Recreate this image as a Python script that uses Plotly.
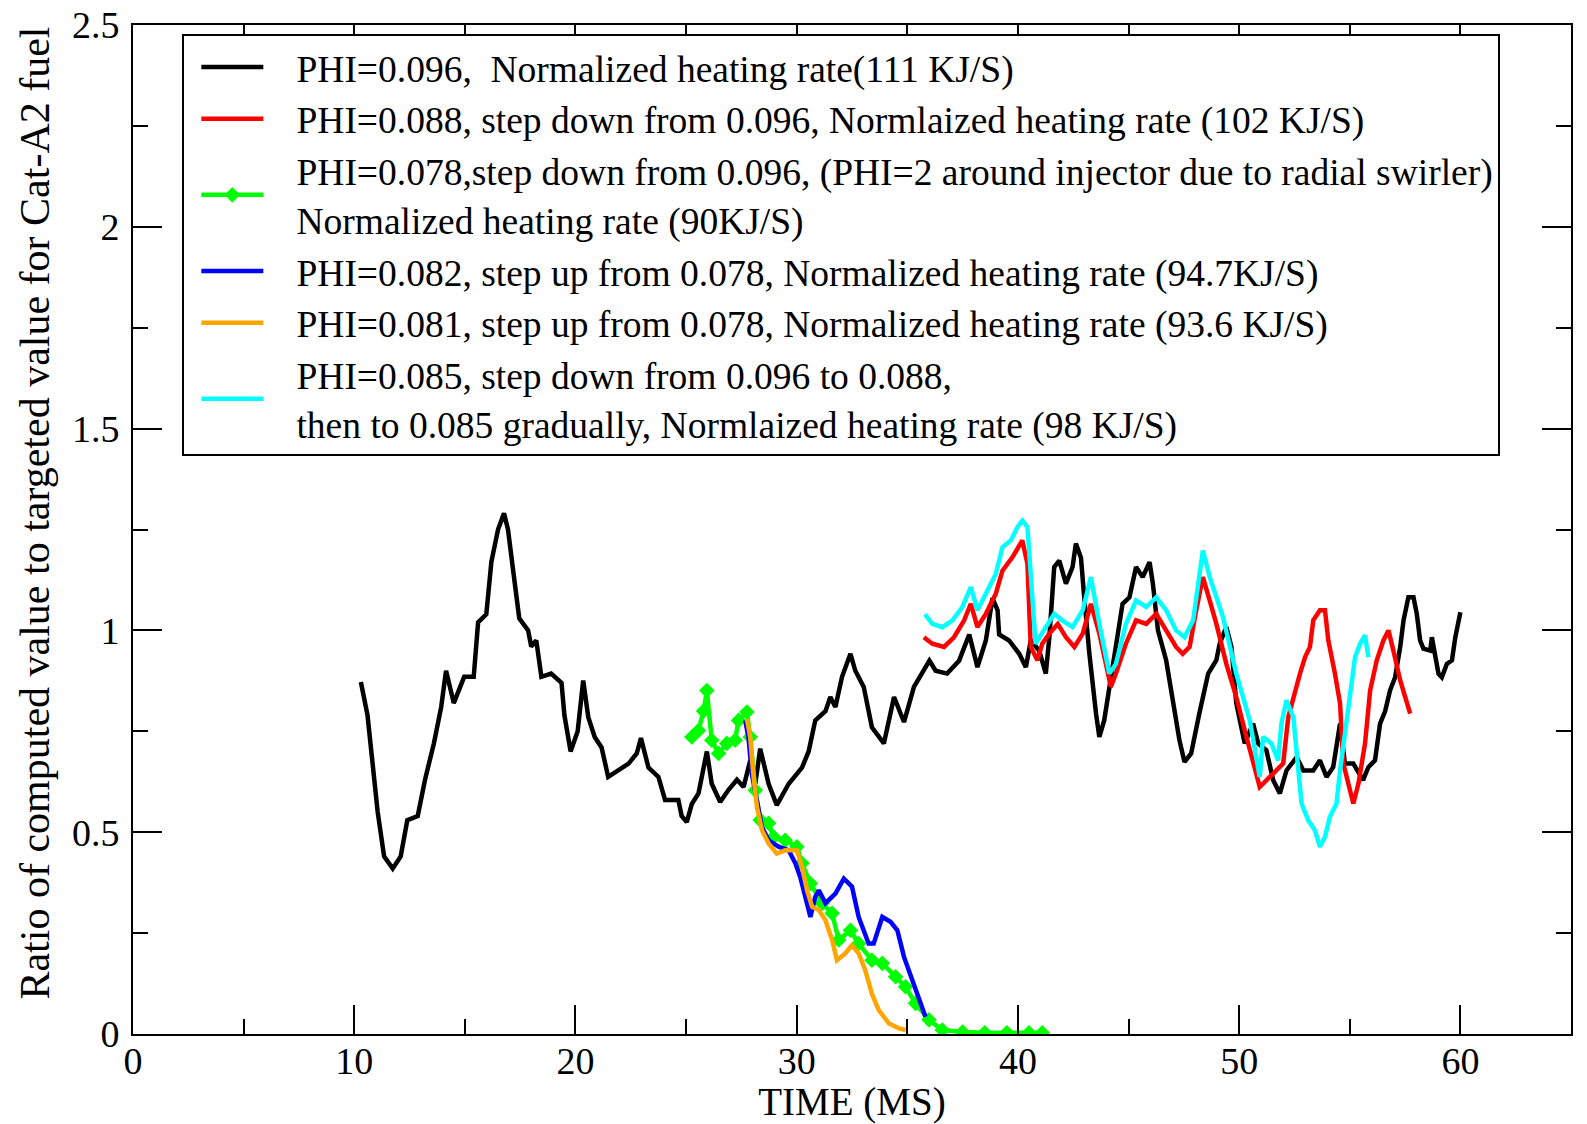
import plotly.graph_objects as go

# ---------------- data ----------------
black_x = [10.3, 10.6, 10.83, 11.06, 11.35, 11.74, 12.1, 12.4, 12.87, 13.2, 13.6, 13.93, 14.15, 14.5, 14.97,
           15.4, 15.6, 15.97, 16.2, 16.5, 16.77, 16.95, 17.18, 17.46, 17.86, 18.0, 18.23, 18.46, 18.9, 19.37,
           19.5, 19.78, 20.1, 20.35, 20.58, 20.87, 21.18, 21.48, 21.93, 22.4, 22.77, 22.96, 23.3, 23.75, 24.05,
           24.65, 24.8, 25.03, 25.26, 25.56, 25.94, 26.16, 26.54, 26.92, 27.3, 27.6, 27.9, 28.13, 28.35, 28.73,
           29.1, 29.64, 30.24, 30.54, 30.84, 31.3, 31.52, 31.75, 32.05, 32.43, 32.65, 33.03, 33.4, 33.94, 34.4,
           34.85, 35.3, 36.0, 36.28, 36.8, 37.34, 37.8, 38.17, 38.55, 38.85, 39.08, 39.15, 39.6, 40.06, 40.36,
           40.58, 40.96, 41.26, 41.42, 41.64, 41.87, 42.17, 42.47, 42.62, 42.85, 43.0, 43.23, 43.53, 43.68, 43.9,
           44.2, 44.73, 45.04, 45.34, 45.64, 45.95, 46.1, 46.33, 46.7, 47.0, 47.3, 47.53, 47.83, 48.2, 48.6,
           48.97, 49.12, 49.42, 49.65, 49.87, 50.1, 50.25, 50.63, 50.86, 51.23, 51.54, 51.84, 52.14, 52.6, 52.9,
           53.35, 53.65, 53.95, 54.25, 54.56, 54.78, 55.16, 55.6, 55.84, 56.14, 56.37, 56.6, 56.82, 57.05, 57.28,
           57.43, 57.65, 57.88, 58.03, 58.18, 58.33, 58.64, 58.71, 58.86, 59.01, 59.16, 59.39, 59.62, 59.77, 60.0]
black_y = [0.872, 0.79, 0.67, 0.55, 0.44, 0.41, 0.44, 0.53, 0.54, 0.63, 0.72, 0.81, 0.90, 0.82, 0.885,
           0.885, 1.02, 1.04, 1.17, 1.25, 1.29, 1.25, 1.15, 1.03, 1.0, 0.96, 0.975, 0.885, 0.893, 0.87,
           0.79, 0.70, 0.75, 0.876, 0.785, 0.736, 0.71, 0.637, 0.653, 0.67, 0.695, 0.733, 0.66, 0.637, 0.58,
           0.58, 0.54, 0.525, 0.57, 0.596, 0.70, 0.62, 0.575, 0.605, 0.63, 0.612, 0.678, 0.62, 0.707, 0.62,
           0.567, 0.62, 0.66, 0.70, 0.777, 0.80, 0.835, 0.81, 0.885, 0.942, 0.90, 0.86, 0.76, 0.72, 0.835,
           0.773, 0.86, 0.925, 0.90, 0.893, 0.925, 0.99, 0.909, 0.975, 1.08, 1.05, 0.99, 0.975, 0.942, 0.909,
           0.975, 0.95, 0.893, 0.983, 1.157, 1.173, 1.116, 1.157, 1.215, 1.18, 1.08, 0.942, 0.794, 0.736, 0.777,
           0.876, 1.066, 1.082, 1.157, 1.132, 1.169, 1.116, 1.0, 0.926, 0.827, 0.728, 0.674, 0.695, 0.794, 0.893,
           0.926, 0.967, 1.008, 0.96, 0.82, 0.752, 0.72, 0.769, 0.72, 0.703, 0.629, 0.596, 0.653, 0.686, 0.653,
           0.653, 0.678, 0.637, 0.661, 0.769, 0.67, 0.67, 0.629, 0.661, 0.678, 0.769, 0.80, 0.851, 0.884, 0.959,
           1.025, 1.082, 1.082, 1.041, 0.975, 0.955, 0.95, 0.983, 0.942, 0.893, 0.884, 0.917, 0.926, 0.983, 1.045]

red_x = [35.75, 36.13, 36.66, 37.11, 37.57, 37.87, 38.17, 38.55, 39.0, 39.3, 39.75, 40.2, 40.43, 40.58, 40.88,
         41.1, 41.42, 41.8, 42.17, 42.55, 42.93, 43.3, 43.68, 44.06, 44.2, 44.43, 44.88, 45.34, 45.8, 46.25,
         46.7, 47.15, 47.45, 47.76, 48.06, 48.36, 48.67, 48.97, 49.42, 49.87, 50.33, 50.7, 50.93, 51.39, 51.99,
         52.22, 52.45, 52.75, 52.98, 53.2, 53.35, 53.65, 53.88, 54.03, 54.33, 54.56, 54.71, 54.93, 55.16, 55.39,
         55.69, 55.92, 56.22, 56.52, 56.75, 56.97, 57.28, 57.73]
red_y = [0.983, 0.967, 0.959, 0.983, 1.025, 1.066, 1.008, 1.041, 1.091, 1.148, 1.181, 1.223, 1.165, 0.959, 0.926,
         0.967, 0.992, 1.016, 0.983, 0.959, 0.992, 1.066, 0.992, 0.893, 0.86, 0.893, 0.967, 1.025, 1.016, 1.041,
         1.0, 0.959, 0.942, 0.959, 1.05, 1.132, 1.074, 1.016, 0.917, 0.835, 0.736, 0.653, 0.612, 0.637, 0.67,
         0.785, 0.835, 0.893, 0.934, 0.959, 1.025, 1.05, 1.05, 0.975, 0.893, 0.819, 0.67, 0.62, 0.571, 0.62,
         0.72, 0.851, 0.926, 0.975, 1.0, 0.95, 0.876, 0.794]

green_x = [25.26, 25.56, 25.79, 25.94, 26.16, 26.47, 26.84, 27.22, 27.37, 27.75, 27.9, 28.13, 28.35, 28.73,
           28.96, 29.48, 30.01, 30.24, 30.62, 31.15, 31.6, 31.9, 32.43, 32.8, 33.4, 33.87, 34.47, 34.92, 35.37,
           35.98, 36.58, 37.5, 38.5, 39.5, 40.5, 41.1]
green_y = [0.736, 0.752, 0.80, 0.851, 0.728, 0.695, 0.72, 0.728, 0.777, 0.798, 0.736, 0.604, 0.53, 0.522,
           0.488, 0.48, 0.464, 0.423, 0.373, 0.324, 0.299, 0.233, 0.257, 0.224, 0.183, 0.175, 0.142, 0.117, 0.076,
           0.035, 0.01, 0.005, 0.003, 0.003, 0.003, 0.003]

blue_x = [27.67, 27.82, 27.97, 28.2, 28.43, 28.73, 29.18, 29.64, 29.94, 30.16, 30.39, 30.62, 30.84, 31.0,
          31.3, 31.75, 32.13, 32.5, 32.8, 33.25, 33.48, 33.87, 34.24, 34.55, 34.85, 35.22, 35.52, 35.82]
blue_y = [0.777, 0.736, 0.645, 0.571, 0.513, 0.48, 0.464, 0.455, 0.423, 0.389, 0.34, 0.29, 0.34, 0.356,
          0.324, 0.348, 0.385, 0.365, 0.29, 0.224, 0.224, 0.29, 0.278, 0.257, 0.191, 0.134, 0.084, 0.043]

orange_x = [27.75, 27.9, 28.05, 28.2, 28.43, 28.73, 29.1, 29.48, 30.01, 30.24, 30.47, 30.7, 31.0, 31.3,
            31.6, 31.82, 32.2, 32.5, 32.8, 33.1, 33.4, 33.7, 34.17, 34.62, 34.92]
orange_y = [0.78, 0.736, 0.637, 0.563, 0.505, 0.472, 0.447, 0.455, 0.455, 0.414, 0.356, 0.315, 0.307, 0.282,
            0.233, 0.183, 0.2, 0.22, 0.2, 0.158, 0.1, 0.06, 0.026, 0.014, 0.01]

cyan_x = [35.8, 36.13, 36.58, 37.04, 37.49, 37.87, 38.17, 38.55, 39.0, 39.3, 39.68, 39.98, 40.2, 40.43, 40.66,
          40.8, 41.26, 41.64, 42.0, 42.47, 42.93, 43.3, 43.68, 44.13, 44.43, 44.88, 45.34, 45.8, 46.25, 46.7,
          47.15, 47.53, 47.92, 48.36, 48.67, 49.27, 49.87, 50.48, 50.93, 51.08, 51.46, 51.76, 51.91, 52.14, 52.45,
          52.67, 52.82, 53.12, 53.42, 53.65, 53.88, 54.1, 54.4, 54.56, 54.78, 55.0, 55.24, 55.47, 55.69, 55.84]
cyan_y = [1.04, 1.016, 1.008, 1.025, 1.058, 1.107, 1.05, 1.091, 1.14, 1.206, 1.223, 1.256, 1.272, 1.256, 1.066,
          0.967, 1.008, 1.041, 1.025, 1.008, 1.05, 1.132, 1.016, 0.893, 0.917, 1.016, 1.074, 1.058, 1.082, 1.05,
          1.0, 0.983, 1.025, 1.198, 1.132, 1.033, 0.893, 0.777, 0.637, 0.736, 0.72, 0.678, 0.769, 0.827, 0.785,
          0.67, 0.571, 0.53, 0.505, 0.464, 0.488, 0.538, 0.571, 0.653, 0.736, 0.835, 0.934, 0.967, 0.988, 0.934]

PAD = "\u00a0\u00a0\u00a0"
names = [
    PAD + "PHI=0.096,\u00a0 Normalized heating rate(111 KJ/S)",
    PAD + "PHI=0.088, step down from 0.096, Normlaized heating rate (102 KJ/S)",
    PAD + "PHI=0.078,step down from 0.096, (PHI=2 around injector due to radial swirler)<br>"
    + PAD + "Normalized heating rate (90KJ/S)",
    PAD + "PHI=0.082, step up from 0.078, Normalized heating rate (94.7KJ/S)",
    PAD + "PHI=0.081, step up from 0.078, Normalized heating rate (93.6 KJ/S)",
    PAD + "PHI=0.085, step down from 0.096 to 0.088,<br>"
    + PAD + "then to 0.085 gradually, Normlaized heating rate (98 KJ/S)",
]
x_title = "TIME (MS)"
y_title = "Ratio of computed value to targeted value for Cat-A2 fuel"

FONT = "Liberation Serif, Times New Roman, serif"
LW = 4.5

fig = go.Figure()
fig.add_trace(go.Scatter(x=black_x, y=black_y, mode="lines", name=names[0],
                         line=dict(color="black", width=LW)))
fig.add_trace(go.Scatter(x=red_x, y=red_y, mode="lines", name=names[1],
                         line=dict(color="#ff0000", width=LW)))
fig.add_trace(go.Scatter(x=green_x, y=green_y, mode="lines+markers", name=names[2],
                         line=dict(color="#00ff00", width=LW),
                         marker=dict(symbol="diamond", size=12, color="#00ff00")))
fig.add_trace(go.Scatter(x=blue_x, y=blue_y, mode="lines", name=names[3],
                         line=dict(color="#0000ff", width=LW)))
fig.add_trace(go.Scatter(x=orange_x, y=orange_y, mode="lines", name=names[4],
                         line=dict(color="#ffa500", width=LW)))
fig.add_trace(go.Scatter(x=cyan_x, y=cyan_y, mode="lines", name=names[5],
                         line=dict(color="#00ffff", width=LW)))

axis_common = dict(
    showline=True, linecolor="black", linewidth=2, mirror="allticks",
    ticks="inside", ticklen=29, tickwidth=2, tickcolor="black",
    showgrid=False, zeroline=False, ticklabeloverflow="allow",
    tickfont=dict(family=FONT, size=38, color="black"),
)

fig.update_xaxes(range=[0, 65], dtick=10, tick0=0, ticklabelstandoff=-8,
                 minor=dict(ticks="inside", ticklen=15, tickwidth=2, tickcolor="black", dtick=5, showgrid=False),
                 title=dict(text=x_title, font=dict(family=FONT, size=39, color="black"), standoff=0),
                 **axis_common)
fig.update_yaxes(range=[0, 2.5], dtick=0.5, tick0=0, ticklabelstandoff=4,
                 minor=dict(ticks="inside", ticklen=15, tickwidth=2, tickcolor="black", dtick=0.25, showgrid=False),
                 **axis_common)

# y-axis title placed as a rotated annotation (slightly above the plot centre, as in the reference)
fig.add_annotation(text=y_title, textangle=-90, xref="paper", yref="paper",
                   x=-0.068, y=0.516, xanchor="center", yanchor="middle", showarrow=False,
                   font=dict(family=FONT, size=42, color="black"))

fig.update_layout(
    width=1587, height=1124,
    margin=dict(l=133, r=16, t=25, b=90, autoexpand=False),
    paper_bgcolor="white", plot_bgcolor="white",
    font=dict(family=FONT, color="black"),
    legend=dict(x=0.0343, y=0.991, xanchor="left", yanchor="top",
                bgcolor="white", bordercolor="black", borderwidth=2,
                font=dict(family=FONT, size=37.5, color="black"),
                itemwidth=62, indentation=12, tracegroupgap=0),
)

# remove the default 8px page margin so the figure sits at the window's corner
fig.write_html("out.html", config={"displayModeBar": False},
               post_script="document.body.style.margin='0';document.body.style.overflow='hidden';")
